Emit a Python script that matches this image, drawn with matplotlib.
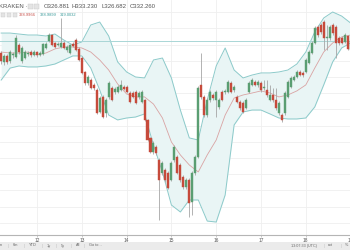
import matplotlib
matplotlib.use("Agg")
import matplotlib.pyplot as plt
import matplotlib.dates as mdates
from matplotlib.patches import Rectangle
import pandas as pd
import numpy as np

# ---------------- data ----------------
start_time = "2018-08-11 04:48"
candle_step = "96min"

opens = [324.8, 319.3, 323.0, 319.9, 323.6, 322.3, 329.7, 319.9, 321.7, 324.2,
         325.4, 323.6, 325.4, 323.6, 324.2, 327.9, 332.2, 335.9, 331.0, 329.7,
         328.5, 331.0, 326.7, 324.8, 330.4, 332.8, 327.3, 321.7, 313.1, 306.3,
         308.1, 305.1, 302.0, 288.4, 297.7, 287.8, 297.7, 303.2, 300.7, 300.7,
         302.0, 303.8, 303.8, 300.1, 300.1, 300.7, 297.7, 294.6, 295.8, 283.5,
         272.4, 263.7, 266.8, 258.8, 250.8, 252.6, 250.8, 246.4, 258.8, 260.6,
         255.7, 248.3, 242.1, 246.4, 232.9, 250.8, 260.6, 305.1, 297.7, 286.5,
         295.8, 298.9, 295.8, 291.5, 300.7, 300.7, 300.7, 306.3, 302.0, 297.7,
         294.6, 294.0, 290.9, 300.7, 305.1, 306.9, 305.1, 306.3, 303.2, 302.0,
         295.8, 298.9, 295.8, 287.8, 286.5, 287.8, 297.7, 303.8, 308.1, 310.0,
         313.1, 312.5, 313.1, 318.6, 324.8, 331.0, 340.8, 342.1, 343.9, 334.0,
         334.0, 342.1, 340.8, 334.0, 334.0, 331.6, 335.3, 326.881]
highs = [326.0, 324.2, 324.2, 326.7, 325.4, 335.9, 331.0, 329.1, 326.7, 326.0,
         326.7, 326.7, 326.0, 326.0, 331.0, 331.6, 337.1, 336.5, 331.6, 331.6,
         346.4, 332.2, 329.7, 330.4, 331.6, 334.0, 328.5, 323.0, 313.7, 311.2,
         309.4, 306.3, 303.2, 298.3, 298.9, 297.0, 307.5, 304.4, 303.8, 305.1,
         308.1, 305.1, 305.1, 301.4, 301.4, 302.0, 301.4, 302.0, 296.4, 284.1,
         273.0, 270.5, 268.0, 260.0, 258.2, 253.8, 252.0, 258.2, 268.0, 261.9,
         256.9, 249.5, 247.7, 247.7, 252.0, 261.9, 304.4, 324.8, 298.9, 297.0,
         302.0, 300.1, 302.0, 297.0, 302.0, 302.6, 308.1, 307.5, 305.1, 298.9,
         295.8, 295.2, 297.0, 307.5, 309.4, 308.1, 308.1, 307.5, 308.1, 308.1,
         305.1, 303.2, 303.2, 295.2, 287.8, 301.4, 308.1, 310.6, 311.2, 314.3,
         314.3, 313.7, 321.7, 326.7, 332.2, 341.5, 342.1, 343.3, 345.2, 342.1,
         342.1, 343.3, 342.1, 335.3, 335.3, 337.1, 336.0, 333.230]
lows = [318.0, 317.4, 318.0, 318.6, 321.7, 321.7, 324.2, 318.6, 321.1, 323.0,
        322.3, 323.0, 322.3, 323.0, 323.6, 327.3, 331.6, 329.1, 327.9, 329.1,
        327.9, 327.3, 325.4, 324.2, 328.5, 326.0, 319.9, 311.8, 305.1, 305.1,
        302.6, 302.0, 287.2, 287.8, 284.7, 285.3, 296.4, 295.2, 299.5, 300.1,
        301.4, 302.0, 300.1, 294.0, 297.0, 293.3, 296.4, 294.0, 282.8, 270.5,
        263.1, 262.5, 261.9, 221.8, 249.5, 245.2, 240.9, 245.8, 257.5, 250.1,
        245.2, 240.9, 240.9, 223.6, 224.9, 249.5, 260.0, 296.4, 285.3, 285.3,
        294.6, 295.8, 285.3, 290.2, 295.2, 299.5, 300.1, 300.1, 300.7, 294.0,
        289.6, 287.8, 290.2, 300.1, 304.4, 304.4, 303.8, 300.7, 302.0, 297.7,
        295.2, 294.6, 289.6, 286.5, 282.2, 286.5, 297.0, 303.2, 307.5, 309.4,
        310.6, 310.0, 312.5, 318.0, 324.2, 330.4, 334.7, 336.5, 326.7, 326.7,
        332.8, 335.9, 321.7, 329.7, 330.4, 331.0, 326.5, 326.682]
closes = [319.9, 323.0, 319.3, 325.4, 324.2, 334.0, 325.4, 327.9, 325.4, 324.8,
          323.6, 325.4, 323.6, 324.8, 330.4, 330.4, 335.9, 329.7, 328.5, 330.4,
          331.0, 327.9, 328.5, 329.7, 329.1, 326.7, 320.5, 312.5, 306.3, 310.0,
          303.2, 303.2, 287.8, 297.0, 285.3, 295.8, 306.3, 295.8, 302.6, 303.8,
          305.1, 302.6, 300.7, 294.6, 297.7, 294.0, 300.1, 300.7, 283.5, 271.1,
          263.7, 269.3, 263.1, 246.4, 256.9, 246.4, 241.5, 256.9, 266.8, 250.8,
          246.4, 242.1, 246.4, 232.2, 250.8, 260.6, 303.2, 297.7, 286.5, 295.8,
          300.7, 297.0, 300.7, 295.8, 295.8, 301.4, 306.9, 300.7, 303.8, 294.6,
          290.9, 288.4, 295.8, 306.3, 308.1, 305.1, 306.9, 302.0, 303.8, 298.9,
          298.9, 295.8, 290.9, 294.0, 283.5, 300.1, 306.9, 309.4, 310.0, 313.1,
          311.2, 311.2, 320.5, 325.4, 331.0, 340.2, 335.9, 337.8, 334.0, 334.7,
          340.8, 337.1, 331.0, 331.0, 331.0, 335.9, 327.0, 332.260]

# Bollinger band readings, one every third candle
bb_upper = [337.1, 337.1, 336.5, 335.9, 335.9, 335.3, 336.5, 332.8, 329.7, 331.6,
            342.1, 343.9, 335.3, 319.3, 313.1, 310.0, 309.4, 320.5, 321.7, 309.4,
            289.6, 272.4, 271.1, 295.8, 316.8, 327.9, 314.3, 309.4, 311.2, 312.5,
            312.5, 313.1, 314.3, 318.0, 325.4, 337.8, 346.4, 350.1, 347.6, 343.3]
bb_middle = [325.4, 324.8, 324.8, 325.4, 323.6, 324.8, 327.3, 328.5, 328.5, 327.9,
             325.4, 320.5, 314.3, 305.7, 299.5, 297.7, 297.7, 293.3, 284.7, 269.9,
             261.9, 255.7, 251.4, 261.9, 271.1, 286.5, 297.0, 298.9, 300.1, 301.4,
             300.1, 297.7, 298.9, 301.4, 305.1, 315.5, 325.4, 331.0, 334.7, 335.9]
bb_lower = [308.1, 315.5, 316.8, 316.2, 316.2, 316.8, 318.0, 320.5, 323.0, 323.0,
            315.5, 302.0, 286.5, 283.5, 284.7, 285.3, 287.2, 268.0, 251.4, 231.0,
            226.7, 234.1, 234.1, 221.1, 220.5, 237.2, 280.4, 288.4, 289.6, 289.6,
            287.2, 284.7, 284.1, 284.1, 284.7, 291.5, 305.1, 319.3, 327.9, 331.0]

legend_ohlc = ["O326.881", "H333.230", "L326.682", "C332.260"]
legend_bb = ["328.9966", "338.9899", "319.0032"]
toolbar_left = ["m", "6m", "YTD", "1y", "5y", "All", "Go to..."]
toolbar_right = ["13:07:33 (UTC)", "ext", "%"]

# ---------------- figure ----------------
plt.rcParams["font.family"] = ["Liberation Sans", "DejaVu Sans"]
W, H = 350, 250
fig = plt.figure(figsize=(3.5, 2.5), dpi=100)
fig.patch.set_facecolor("white")

UP = "#5a9e72"
DOWN = "#c64a3b"
WICK = "#a6a6a6"
BAND = "#8ccaca"
FILL = "#e9f5f5"
MID = "#d9a3a3"

ax = fig.add_axes([0, 15 / H, 1.025, 235 / H])
times = pd.date_range(start_time, periods=len(opens), freq=candle_step)
o = np.array(opens); c = np.array(closes); hi = np.array(highs); lo = np.array(lows)
up = c >= o
colors = np.where(up, UP, DOWN)

bt = times[::3][:len(bb_upper)]
ax.fill_between(bt, bb_lower, bb_upper, color=FILL, zorder=1, lw=0)
ax.plot(bt, bb_upper, color=BAND, lw=0.7, zorder=2)
ax.plot(bt, bb_lower, color=BAND, lw=0.7, zorder=2)
ax.plot(bt, bb_middle, color=MID, lw=0.6, zorder=2)

ax.vlines(times, lo, hi, color=WICK, lw=0.6, zorder=3)
body = np.where(np.abs(c - o) < 0.4, 0.4, c - o)
ax.bar(times, body, bottom=o, width=0.045, color=colors, edgecolor=colors,
       lw=0.3, zorder=4)

ax.axhline(closes[-1], color="#a9d6d6", lw=0.7, zorder=2.5)

d0 = pd.Timestamp("2018-08-12")
ax.set_xlim(d0 - pd.Timedelta(days=37 / 44.8), d0 + pd.Timedelta(days=(358.75 - 37) / 44.8))
ax.set_ylim(212.5, 357.5)
ax.xaxis.set_major_locator(mdates.DayLocator())
ax.xaxis.set_major_formatter(mdates.DateFormatter("%-d"))
ax.yaxis.set_major_locator(plt.MultipleLocator(10))
ax.grid(True, color="#efefef", lw=0.6, zorder=0)
ax.set_axisbelow(True)
for s in ["top", "right", "left"]:
    ax.spines[s].set_visible(False)
ax.spines["bottom"].set_color("#b5b5b5")
ax.spines["bottom"].set_linewidth(0.8)
ax.tick_params(axis="x", length=1.5, width=0.5, color="#b5b5b5", labelsize=3.4,
               labelcolor="#555555", pad=1)
ax.tick_params(axis="y", left=False, labelleft=False)

# ---------- legend text ----------
def fx(px):
    return px / W

def fy(py):
    return 1 - py / H

fig.text(fx(-1), fy(7), "KRAKEN ·", fontsize=4.3, color="#555555", va="center", ha="left")
for xx in (28, 34):
    fig.patches.append(Rectangle((fx(xx), fy(9)), fx(4.5), 4.5 / H, transform=fig.transFigure,
                                 fc="#e4e4e4", ec="#c8c8c8", lw=0.3))
xs = [44, 72, 101, 130]
for xx, t in zip(xs, legend_ohlc):
    fig.text(fx(xx), fy(7), t, fontsize=4.3, color="#555555", va="center", ha="left")

for xx in (1, 7, 13):
    fig.patches.append(Rectangle((fx(xx), fy(17)), fx(4), 4 / H, transform=fig.transFigure,
                                 fc="#e4e4e4", ec="#c8c8c8", lw=0.3))
for xx, t, col in zip([19, 40, 60], legend_bb, ["#c8504a", "#3a9a9a", "#3a9a9a"]):
    fig.text(fx(xx), fy(15), t, fontsize=2.9, color=col, va="center", ha="left")

# ---------- bottom toolbar ----------
fig.patches.append(Rectangle((0, 0), 1, 8.5 / H, transform=fig.transFigure,
                             fc="#ebebeb", ec="none"))
for xx, t in zip([-1, 13, 29, 47, 61, 76, 89], toolbar_left):
    fig.text(fx(xx), fy(245.5), t, fontsize=2.8, color="#666666", va="center", ha="left")
for xx in [8, 24, 42, 56, 71, 84]:
    fig.text(fx(xx), fy(245.5), "|", fontsize=2.8, color="#bbbbbb", va="center", ha="left")
for xx, t in zip([291, 328, 345], toolbar_right):
    fig.text(fx(xx), fy(245.5), t, fontsize=2.7, color="#666666", va="center", ha="left")
for xx in [324, 341]:
    fig.text(fx(xx), fy(245.5), "|", fontsize=2.7, color="#bbbbbb", va="center", ha="left")

fig.savefig("out.png", dpi=100)
